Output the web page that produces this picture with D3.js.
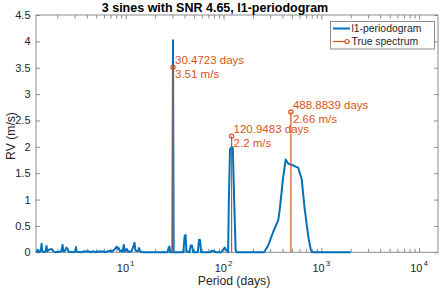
<!DOCTYPE html>
<html>
<head>
<meta charset="utf-8">
<script src="https://cdn.jsdelivr.net/npm/d3@7"></script>
<style>
    body { margin: 0; background: #fff; }
    svg { display: block; font-family: "Liberation Sans", Arial, Helvetica, sans-serif; }
</style>
</head>
<body>
<svg id="chart" width="441" height="289"></svg>
<script>
// l1-periodogram, [period (days), RV (m/s)]
const l1Periodogram = [
    [1.21, 0.00], [1.24, 0.01], [1.26, 0.05], [1.28, 0.02], [1.33, 0.01],
    [1.36, 0.06], [1.38, 0.16], [1.40, 0.03], [1.47, 0.00], [1.52, 0.02],
    [1.55, 0.12], [1.58, 0.02], [1.65, 0.05], [1.70, 0.06], [1.76, 0.06],
    [1.82, 0.02], [1.90, 0.00], [2.10, 0.01], [2.20, 0.02], [2.26, 0.14],
    [2.31, 0.02], [2.40, 0.03], [2.48, 0.09], [2.55, 0.06], [2.62, 0.01],
    [2.95, 0.00], [3.05, 0.02], [3.10, 0.10], [3.15, 0.01], [3.50, 0.00],
    [3.80, 0.02], [3.90, 0.01], [4.20, 0.02], [4.40, 0.00], [4.70, 0.02],
    [4.90, 0.00], [5.40, 0.02], [5.60, 0.01], [5.90, 0.02], [6.10, 0.00],
    [6.60, 0.02], [7.00, 0.03], [7.20, 0.01], [7.60, 0.05], [7.90, 0.08],
    [8.10, 0.11], [8.30, 0.07], [8.50, 0.08], [8.70, 0.02], [9.00, 0.03],
    [9.30, 0.01], [9.55, 0.14], [9.80, 0.02], [10.3, 0.06], [10.6, 0.01],
    [11.5, 0.02], [12.0, 0.12], [12.3, 0.18], [12.6, 0.03], [13.3, 0.02],
    [13.7, 0.08], [14.1, 0.01], [15.0, 0.00], [26.8, 0.00], [27.5, 0.09],
    [28.0, 0.11], [28.6, 0.00], [30.0, 0.00], [30.45, 4.02], [30.95, 0.00],
    [38.8, 0.00], [40.0, 0.30], [40.9, 0.33], [41.8, 0.02], [44.9, 0.00],
    [46.2, 0.13], [47.6, 0.13], [49.0, 0.00], [54.6, 0.00], [56.2, 0.24],
    [57.6, 0.23], [59.0, 0.00], [73.0, 0.00], [75.5, 0.03], [80.0, 0.02],
    [84.0, 0.00], [95.0, 0.00], [99.0, 0.05], [103.0, 0.09], [106.0, 0.05],
    [111.5, 0.00], [113.5, 1.00], [116.5, 1.95], [121.0, 2.00], [124.5, 1.98],
    [128.5, 1.00], [133.0, 0.05], [136.0, 0.00], [259.5, 0.00], [285, 0.12],
    [321, 0.38], [363, 0.61], [378, 0.85], [406, 1.40], [432, 1.76],
    [460, 1.68], [514, 1.65], [582, 1.60], [631, 1.38], [673, 0.85],
    [736, 0.30], [780, 0.05], [805, 0.00], [2000, 0.00]
];

// true spectrum
const truePeriods = [30.4723, 120.9483, 488.8839];
const trueRv = [3.51, 2.2, 2.66];

const yTicks = [0, 0.5, 1, 1.5, 2, 2.5, 3, 3.5, 4, 4.5];
const xMajorTicks = [10, 100, 1000, 10000];
const xMinorTicks = [2, 3, 4, 5, 6, 7, 8, 9]
    .flatMap((m) => [1, 10, 100, 1000].map((d) => m * d));

const blue = '#0072BD';
const orange = '#D95319';
const axisGrey = '#8c8c8c';
const textDark = '#262626';

const svg = d3.select('#chart');

const x = d3.scaleLog().domain([1.21, 15600]).range([36, 438]);
const y = d3.scaleLinear().domain([0, 4.5]).range([252.3, 15]);

// ticks, all pointing inwards like matlab
const tickAxis = (axis, tx, ty, values, size) => {
    const g = svg.append('g')
        .attr('transform', `translate(${tx},${ty})`)
        .call(axis.tickValues(values).tickSizeInner(-size).tickSizeOuter(0).tickFormat(''));
    g.select('.domain').remove();
    g.selectAll('line').attr('stroke', axisGrey);
    return g;
};

tickAxis(d3.axisBottom(x), 0, 252.3, xMajorTicks, 4.5);
tickAxis(d3.axisBottom(x), 0, 252.3, xMinorTicks, 3.5);
tickAxis(d3.axisTop(x), 0, 15, xMajorTicks, 4.5);
tickAxis(d3.axisTop(x), 0, 15, xMinorTicks, 3.5);
tickAxis(d3.axisRight(y), 438, 0, yTicks, 4);

const left = svg.append('g')
    .attr('transform', 'translate(36,0)')
    .call(d3.axisLeft(y).tickValues(yTicks).tickSizeInner(-4).tickSizeOuter(0)
        .tickPadding(5.5).tickFormat((d) => String(d)));
left.select('.domain').remove();
left.selectAll('line').attr('stroke', axisGrey);
left.selectAll('text')
    .attr('fill', textDark)
    .style('font-size', '11px');

// x labels 10^n
const xLabels = svg.append('g')
    .selectAll('text')
    .data(xMajorTicks)
    .enter()
    .append('text')
    .attr('x', (d) => x(d))
    .attr('y', 271.5)
    .attr('text-anchor', 'middle')
    .attr('fill', textDark)
    .style('font-size', '11px');
xLabels.append('tspan').text('10');
xLabels.append('tspan')
    .attr('dy', -6)
    .attr('dx', 1)
    .style('font-size', '8px')
    .text((d) => Math.round(Math.log10(d)));

// box
svg.append('rect')
    .attr('x', 36)
    .attr('y', 15)
    .attr('width', 402)
    .attr('height', 237.3)
    .attr('fill', 'none')
    .attr('stroke', axisGrey)
    .attr('stroke-width', 1);

// periodogram line
const line = d3.line()
    .x((d) => x(d[0]))
    .y((d) => y(d[1]));

svg.append('path')
    .datum(l1Periodogram)
    .attr('d', line)
    .attr('fill', 'none')
    .attr('stroke', blue)
    .attr('stroke-width', 2)
    .attr('stroke-linejoin', 'round');

// stems
const stems = svg.append('g')
    .selectAll('g')
    .data(truePeriods.map((p, i) => ({ p, v: trueRv[i] })))
    .enter()
    .append('g');

stems.append('line')
    .attr('x1', (d) => x(d.p))
    .attr('x2', (d) => x(d.p))
    .attr('y1', y(0))
    .attr('y2', (d) => y(d.v))
    .attr('stroke', orange)
    .attr('stroke-width', 1.2);

stems.append('circle')
    .attr('cx', (d) => x(d.p))
    .attr('cy', (d) => y(d.v))
    .attr('r', 2.2)
    .attr('fill', 'none')
    .attr('stroke', orange)
    .attr('stroke-width', 1.1);

const labels = stems.append('text')
    .attr('fill', orange)
    .style('font-size', '11.5px');
labels.append('tspan')
    .attr('x', (d) => x(d.p) + 2)
    .attr('y', (d) => y(d.v) - 2.8)
    .text((d) => `${d.p} days`);
labels.append('tspan')
    .attr('x', (d) => x(d.p) + 2)
    .attr('y', (d) => y(d.v) + 11)
    .text((d) => `${d.v} m/s`);

// legend
const legend = svg.append('g');
legend.append('rect')
    .attr('x', 330.5)
    .attr('y', 21.5)
    .attr('width', 104)
    .attr('height', 27.5)
    .attr('fill', '#fff')
    .attr('stroke', axisGrey);

const legendItems = [
    { name: 'l1-periodogram', color: blue, width: 2, marker: false, yy: 28.5 },
    { name: 'True spectrum', color: orange, width: 1.2, marker: true, yy: 41.5 }
];
legendItems.forEach((it) => {
    legend.append('line')
        .attr('x1', 333)
        .attr('x2', 350)
        .attr('y1', it.yy)
        .attr('y2', it.yy)
        .attr('stroke', it.color)
        .attr('stroke-width', it.width);
    if (it.marker) {
        legend.append('circle')
            .attr('cx', 347)
            .attr('cy', it.yy)
            .attr('r', 2)
            .attr('fill', '#fff')
            .attr('stroke', it.color)
            .attr('stroke-width', 1.1);
    }
    legend.append('text')
        .attr('x', 351.5)
        .attr('y', it.yy + 3.7)
        .attr('fill', textDark)
        .style('font-size', '10.4px')
        .text(it.name);
});

// title and axis labels
svg.append('text')
    .attr('x', 215)
    .attr('y', 12)
    .attr('text-anchor', 'middle')
    .attr('fill', '#000')
    .style('font-size', '12.5px')
    .style('font-weight', 'bold')
    .text('3 sines with SNR 4.65, l1-periodogram');

svg.append('text')
    .attr('x', 234)
    .attr('y', 284.5)
    .attr('text-anchor', 'middle')
    .attr('fill', textDark)
    .style('font-size', '12.2px')
    .text('Period (days)');

svg.append('text')
    .attr('transform', 'translate(14.5,136) rotate(-90)')
    .attr('text-anchor', 'middle')
    .attr('fill', textDark)
    .style('font-size', '12.2px')
    .text('RV (m/s)');
</script>
</body>
</html>
